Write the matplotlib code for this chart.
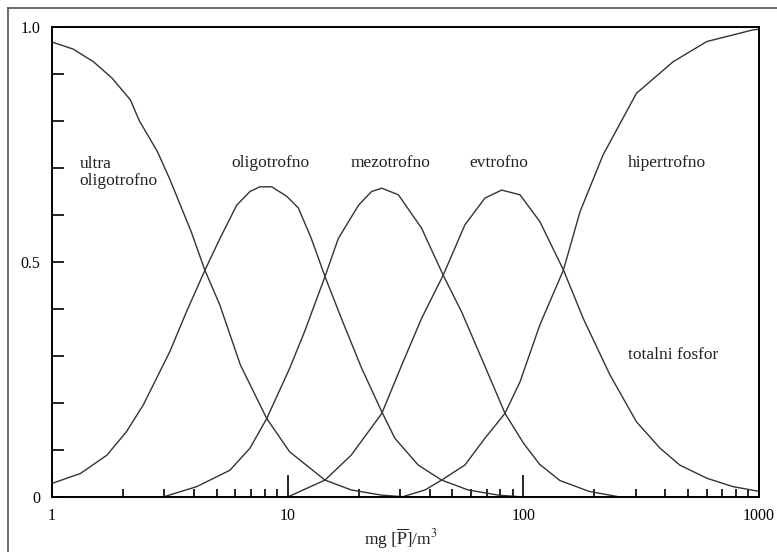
import numpy as np
import matplotlib.pyplot as plt
from matplotlib.lines import Line2D

# total phosphorus (mg/m3) and probability of each trophic class
ultra_tp = [1, 1.23, 1.5, 1.8, 2.15, 2.35, 2.8, 3.15, 3.9, 4.45, 5.15, 6.3, 8.15, 10.2, 14.4, 18.6, 25, 32]
ultra_p = [0.968, 0.953, 0.926, 0.891, 0.845, 0.80, 0.735, 0.678, 0.564, 0.483, 0.409, 0.281, 0.167, 0.096, 0.036, 0.015, 0.004, 0.0]

oligo_tp = [1, 1.32, 1.71, 2.07, 2.44, 3.16, 3.72, 4.46, 5.16, 6.08, 6.92, 7.62, 8.55, 9.9, 11.1,
            12.6, 14.4, 16.9, 20.6, 25.1, 28.5, 35.8, 45, 58.3, 78.3, 100]
oligo_p = [0.029, 0.05, 0.089, 0.139, 0.196, 0.309, 0.394, 0.483, 0.55, 0.621, 0.65, 0.66, 0.66, 0.64, 0.615,
           0.55, 0.469, 0.38, 0.274, 0.181, 0.125, 0.068, 0.036, 0.015, 0.004, 0.0]

mezo_tp = [2.96, 4.11, 5.69, 6.92, 8.15, 10.2, 11.8, 14.4, 16.4, 20, 22.7, 25.1, 29.5, 37, 45.7,
           54.7, 66.5, 83.6, 100, 117, 143, 190, 257]
mezo_p = [0.0, 0.022, 0.057, 0.104, 0.167, 0.274, 0.352, 0.469, 0.55, 0.621, 0.65, 0.657, 0.643, 0.572, 0.472,
          0.394, 0.295, 0.178, 0.115, 0.07, 0.035, 0.012, 0.0]

evtro_tp = [10, 14.4, 18.6, 25.1, 30.5, 37, 45.7, 56.5, 68.7, 80.9, 96.8, 117.5, 148, 179.5, 233,
            302, 380, 461, 600, 776, 1000]
evtro_p = [0.0, 0.036, 0.089, 0.178, 0.281, 0.38, 0.472, 0.579, 0.636, 0.653, 0.643, 0.586, 0.483, 0.38, 0.26,
           0.16, 0.104, 0.068, 0.04, 0.022, 0.012]

hiper_tp = [30.5, 38.3, 45, 56.5, 68.7, 83.6, 96.8, 117.5, 148, 174, 218, 302, 432, 600, 944, 1000]
hiper_p = [0.0, 0.015, 0.036, 0.068, 0.125, 0.178, 0.245, 0.366, 0.483, 0.607, 0.728, 0.859, 0.926, 0.969, 0.994, 0.995]

x_ticks = [1, 10, 100, 1000]
x_tick_labels = ["1", "10", "100", "1000"]
y_ticks = [0, 0.5, 1.0]
y_tick_labels = ["0", "0.5", "1.0"]

# class names and where they sit on the chart
class_labels = ["ultra\noligotrofno", "oligotrofno", "mezotrofno", "evtrofno", "hipertrofno", "totalni fosfor"]
label_x = [1.31, 5.75, 18.5, 59, 277, 277]
label_y = [0.69, 0.711, 0.711, 0.711, 0.711, 0.302]


def plot_curves(output_path):
    plt.rcParams['font.family'] = ['Liberation Serif', 'DejaVu Serif']
    plt.rcParams['mathtext.fontset'] = 'stix'

    fig = plt.figure(figsize=(7.77, 5.52), dpi=100)
    ax = fig.add_axes([52 / 777, 55 / 552, 707 / 777, 470 / 552])

    for tp, p in [(ultra_tp, ultra_p), (oligo_tp, oligo_p), (mezo_tp, mezo_p),
                  (evtro_tp, evtro_p), (hiper_tp, hiper_p)]:
        ax.plot(tp, p, color='#333333', lw=1.0)

    ax.set_xscale('log')
    ax.set_xlim(1, 1000)
    ax.set_ylim(0, 1)

    ax.set_xticks(x_ticks)
    ax.set_xticklabels(x_tick_labels)
    minor_x = [m * d for d in (1, 10, 100) for m in range(2, 10)]
    ax.set_xticks(minor_x, minor=True)
    ax.set_yticks(y_ticks)
    ax.set_yticklabels(y_tick_labels)
    ax.set_yticks(np.arange(0.1, 1.0, 0.1), minor=True)

    ax.tick_params(axis='x', which='major', direction='in', length=15.5, width=1.2,
                   pad=8, labelsize=11.5, top=False)
    ax.tick_params(axis='x', which='minor', direction='in', length=6, width=1.2, top=False)
    ax.tick_params(axis='y', which='both', direction='in', length=8.5, width=1.2,
                   pad=8.5, labelsize=11.5, right=False)
    for spine in ax.spines.values():
        spine.set_linewidth(1.4)

    for text, x, y in zip(class_labels, label_x, label_y):
        ax.text(x, y, text, fontsize=12.5, ha='left', va='center', linespacing=1.05, color='#222222')

    fig.text(401 / 777, 1 - 539 / 552, r'mg $[\overline{\mathrm{P}}]$/m$^3$', fontsize=12.5,
             ha='center', va='center', color='#222222')

    # outer frame, only the top and left edges fall inside the image
    x0, y0 = 8 / 777, 1 - 8 / 552
    fig.add_artist(Line2D([x0, 1.0], [y0, y0], color='#444444', lw=1.1))
    fig.add_artist(Line2D([x0, x0], [0.0, y0], color='#444444', lw=1.1))

    fig.savefig(output_path, dpi=100)


def main():
    plot_curves("out.png")


if __name__ == "__main__":
    main()
